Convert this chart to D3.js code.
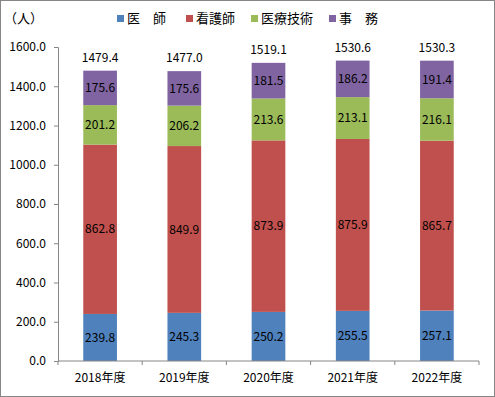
<!DOCTYPE html>
<html>
<head>
<meta charset="utf-8">
<script src="https://cdn.jsdelivr.net/npm/d3@7"></script>
<style>
  body { margin: 0; background: #fff; }
  text { font-family: "Noto Sans CJK JP", "DejaVu Sans", sans-serif; }
</style>
</head>
<body>
<div id="chart"></div>
<script>
// Data
var years = ["2018年度", "2019年度", "2020年度", "2021年度", "2022年度"];
var seriesNames = ["医　師", "看護師", "医療技術", "事　務"];
var doctors = [239.8, 245.3, 250.2, 255.5, 257.1];
var nurses = [862.8, 849.9, 873.9, 875.9, 865.7];
var technicians = [201.2, 206.2, 213.6, 213.1, 216.1];
var office = [175.6, 175.6, 181.5, 186.2, 191.4];
var totals = [1479.4, 1477.0, 1519.1, 1530.6, 1530.3];
var yTicks = [0, 200, 400, 600, 800, 1000, 1200, 1400, 1600];

var colors = ["#4F81BD", "#C0504D", "#9BBB59", "#8064A2"];
var W = 495, H = 397;
var margin = {top: 47, right: 16, bottom: 36, left: 58};
var width = W - margin.left - margin.right;
var height = H - margin.top - margin.bottom;

var svg = d3.select("#chart").append("svg")
    .attr("width", W).attr("height", H);

// outer frame
svg.append("rect")
    .attr("x", 0.5).attr("y", 0.5)
    .attr("width", W - 1).attr("height", H - 1)
    .attr("fill", "#fff").attr("stroke", "#868686");

var g = svg.append("g")
    .attr("transform", "translate(" + margin.left + "," + margin.top + ")");

var x = d3.scaleBand().domain(years).range([0, width]).paddingInner(0.6).paddingOuter(0.3);
var y = d3.scaleLinear().domain([0, 1600]).range([height, 0]);

// stack the series
var rows = years.map(function(yr, i) {
    return {year: yr, s0: doctors[i], s1: nurses[i], s2: technicians[i], s3: office[i]};
});
var stack = d3.stack().keys(["s0", "s1", "s2", "s3"])(rows);

var layers = g.selectAll(".layer")
    .data(stack)
    .enter().append("g")
    .attr("fill", function(d, i) { return colors[i]; });

layers.selectAll("rect")
    .data(function(d) { return d; })
    .enter().append("rect")
    .attr("x", function(d) { return x(d.data.year); })
    .attr("width", x.bandwidth())
    .attr("y", function(d) { return y(d[1]); })
    .attr("height", function(d) { return y(d[0]) - y(d[1]); });

// value labels inside segments
layers.selectAll(".val")
    .data(function(d) { return d; })
    .enter().append("text")
    .attr("x", function(d) { return x(d.data.year) + x.bandwidth() / 2; })
    .attr("y", function(d) { return (y(d[0]) + y(d[1])) / 2; })
    .attr("dy", "0.35em")
    .attr("text-anchor", "middle")
    .attr("fill", "#000")
    .style("font-size", "12px")
    .text(function(d) { return (d[1] - d[0]).toFixed(1); });

// totals above bars
g.selectAll(".total")
    .data(years)
    .enter().append("text")
    .attr("x", function(d) { return x(d) + x.bandwidth() / 2; })
    .attr("y", function(d, i) { return y(totals[i]) - 9; })
    .attr("text-anchor", "middle")
    .attr("fill", "#000")
    .style("font-size", "12px")
    .text(function(d, i) { return totals[i].toFixed(1); });

// y axis
var yAxis = g.append("g")
    .call(d3.axisLeft(y).tickValues(yTicks).tickSize(4).tickFormat(function(d) { return d.toFixed(1); }));
yAxis.select(".domain").attr("stroke", "#868686");
yAxis.selectAll(".tick line").attr("stroke", "#868686");
yAxis.selectAll(".tick text").attr("x", -12).attr("fill", "#000").style("font-size", "12px");

// x axis with ticks at category boundaries
var xAxis = g.append("g").attr("transform", "translate(0," + height + ")");
xAxis.append("line").attr("x1", 0).attr("x2", width).attr("stroke", "#868686");
xAxis.selectAll(".bound")
    .data(d3.range(years.length + 1))
    .enter().append("line")
    .attr("x1", function(i) { return i * x.step(); })
    .attr("x2", function(i) { return i * x.step(); })
    .attr("y1", 0).attr("y2", 4)
    .attr("stroke", "#868686");
xAxis.selectAll(".lbl")
    .data(years)
    .enter().append("text")
    .attr("x", function(d) { return x(d) + x.bandwidth() / 2; })
    .attr("y", 21)
    .attr("text-anchor", "middle")
    .attr("fill", "#000")
    .style("font-size", "12px")
    .text(function(d) { return d; });

// unit label
svg.append("text")
    .attr("x", 4).attr("y", 23)
    .style("font-size", "13px")
    .text("（人）");

// legend
var legendX = [117, 186, 251, 329];
var legend = svg.selectAll(".legend")
    .data(seriesNames)
    .enter().append("g")
    .attr("transform", function(d, i) { return "translate(" + legendX[i] + ",15)"; });
legend.append("rect")
    .attr("width", 7).attr("height", 7)
    .attr("fill", function(d, i) { return colors[i]; });
legend.append("text")
    .attr("x", 10).attr("y", 8)
    .style("font-size", "13px")
    .text(function(d) { return d; });
</script>
</body>
</html>
